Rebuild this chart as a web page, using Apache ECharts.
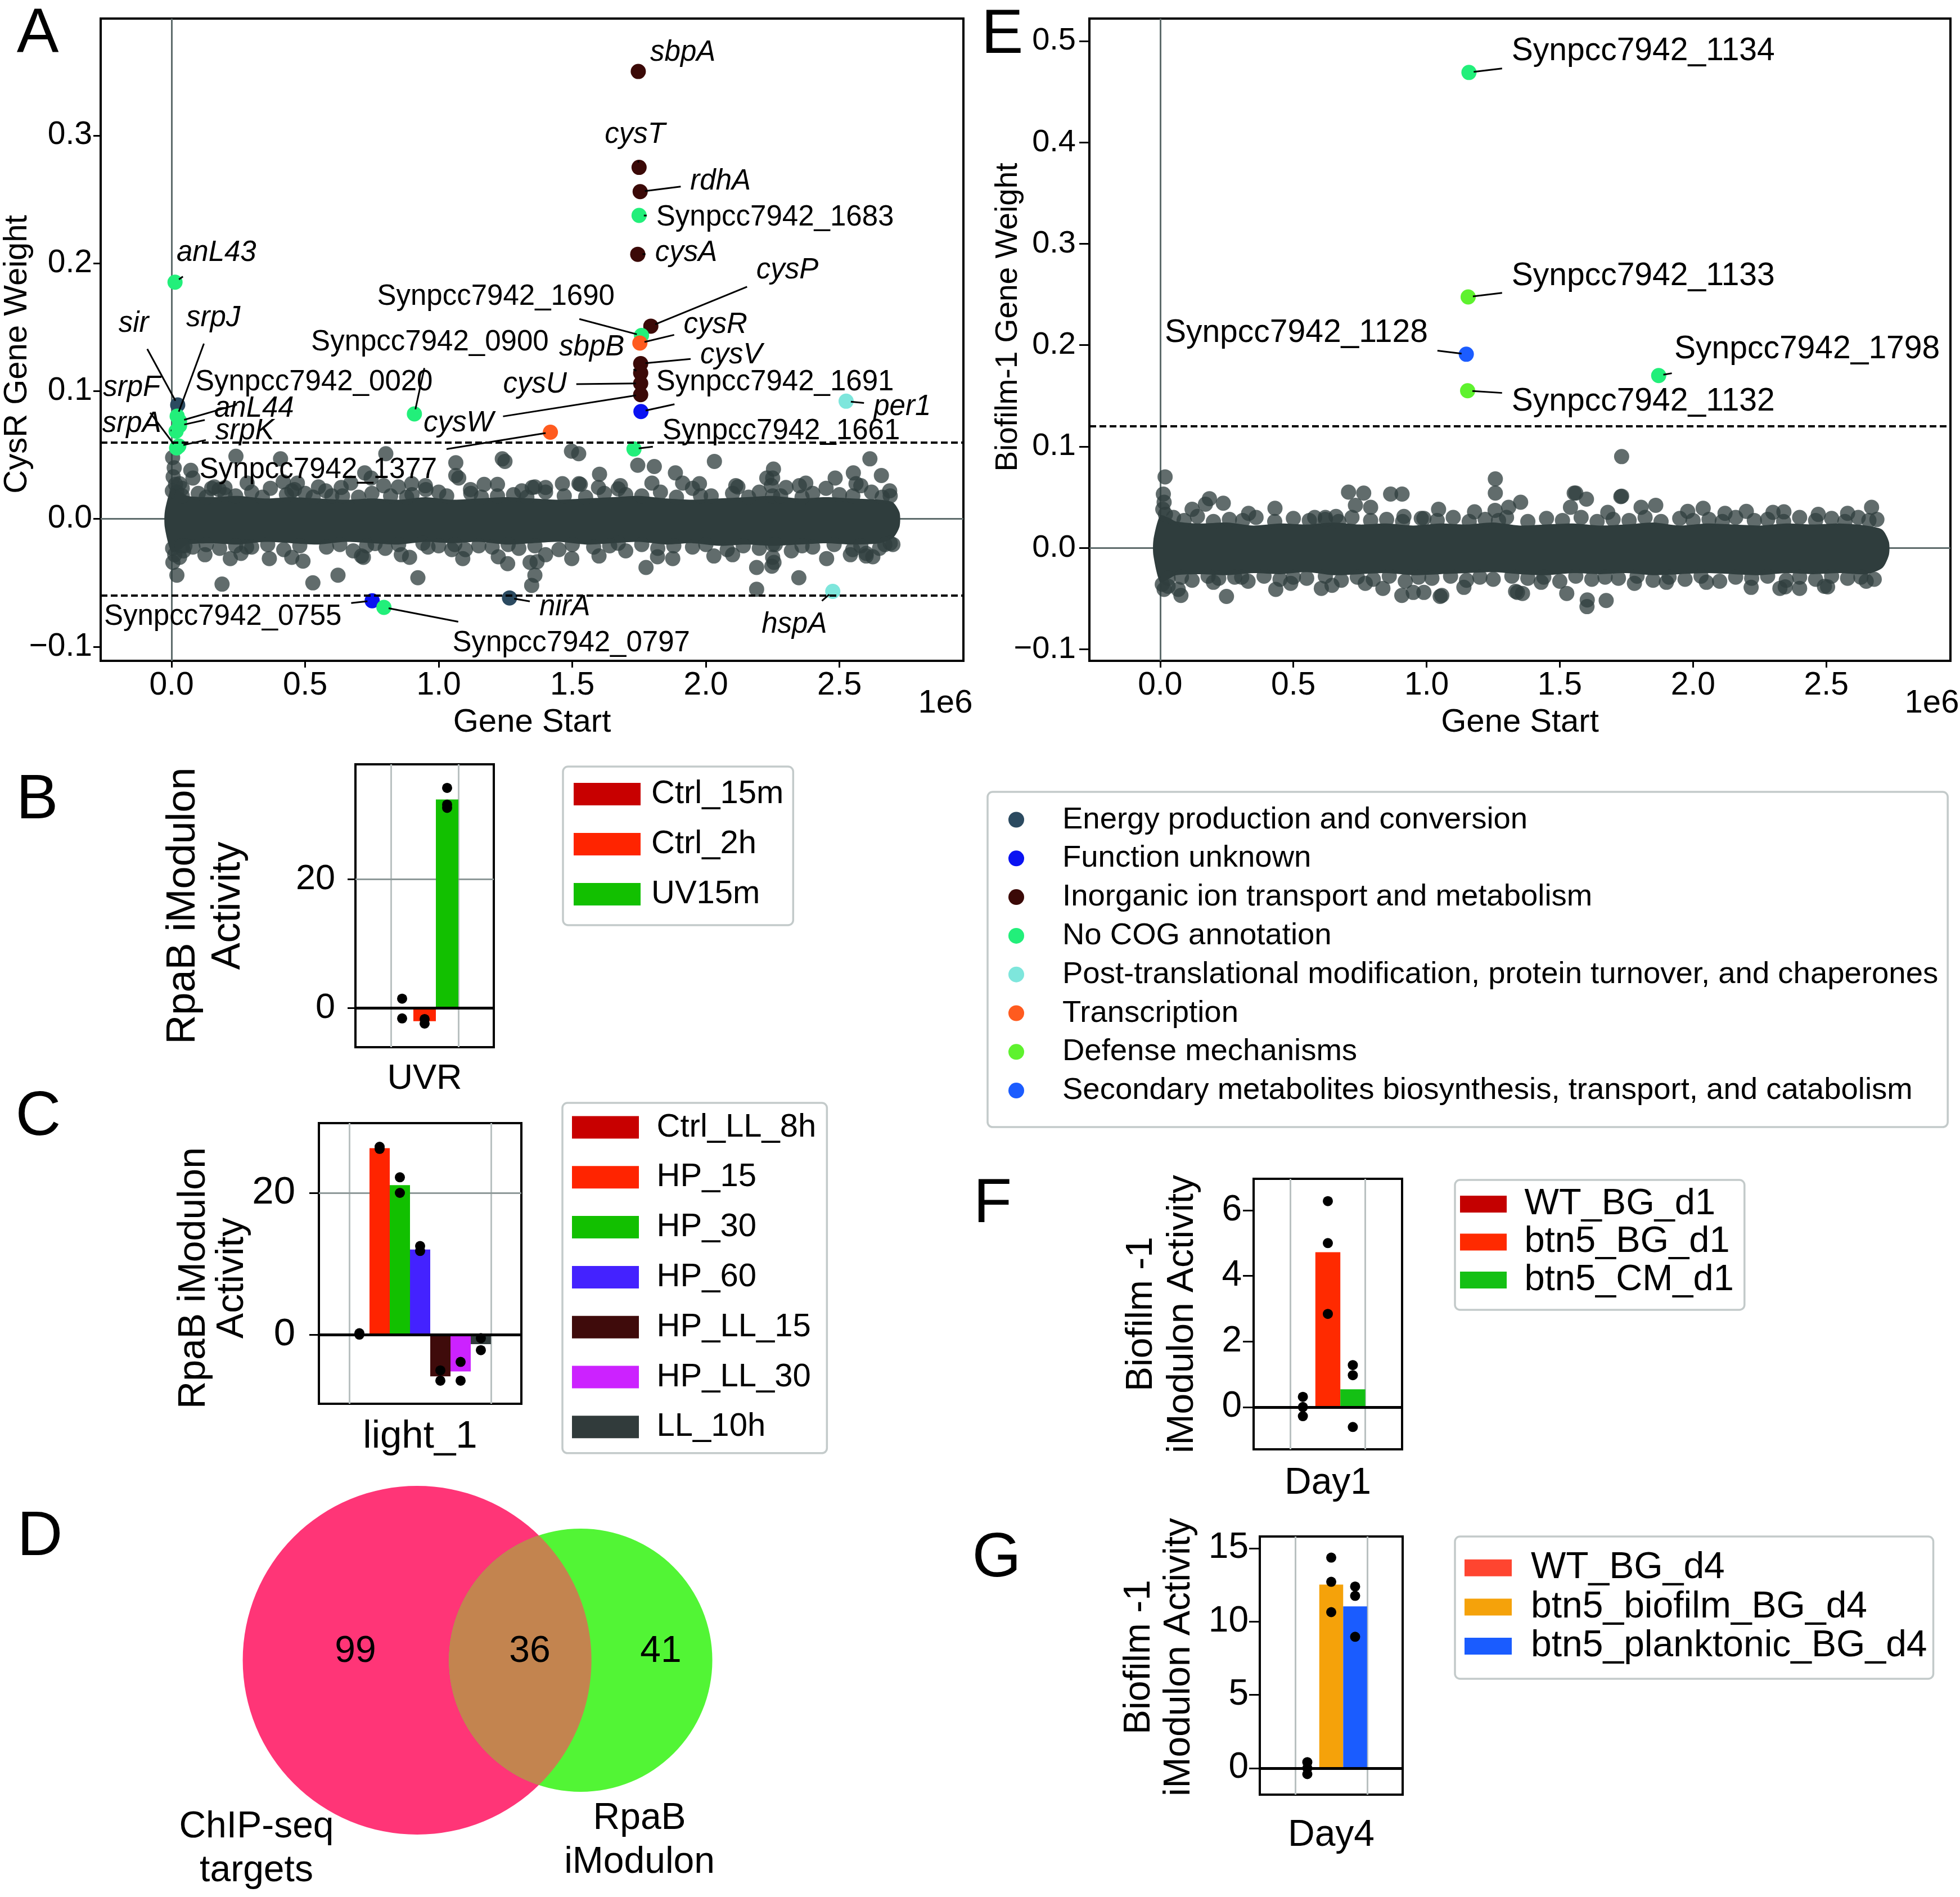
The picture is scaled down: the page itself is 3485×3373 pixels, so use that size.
<!DOCTYPE html>
<html><head><meta charset="utf-8"><title>CysR / RpaB / Biofilm-1 iModulons</title>
<script src="https://cdn.jsdelivr.net/npm/echarts@6.0.0/dist/echarts.min.js"></script>
<style>html,body{margin:0;padding:0;background:#fff;}#chart{width:3485px;height:3373px;}</style>
</head><body><div id="chart"></div>
<script>
const FONT = '"Liberation Sans", Arial, Helvetica, sans-serif';

// ---------------- COG categories ----------------
const cogNames = ['Energy production and conversion','Function unknown','Inorganic ion transport and metabolism','No COG annotation','Post-translational modification, protein turnover, and chaperones','Transcription','Defense mechanisms','Secondary metabolites biosynthesis, transport, and catabolism'];
const cogColors = ['#2b4a60','#0a12f2','#3b0907','#22ef7a','#7ee6dc','#ff5b1f','#5ef22e','#1b5cff'];

// ---------------- Panel A : CysR gene weights ----------------
const aGenes = ['sbpA','cysT','rdhA','Synpcc7942_1683','cysA','cysP','Synpcc7942_1690','cysR','cysV','sbpB','cysU','cysW','Synpcc7942_1691','Synpcc7942_1661','Synpcc7942_1377','Synpcc7942_0900','per1','hspA','nirA','Synpcc7942_0755','Synpcc7942_0797','anL43','sir','srpJ','Synpcc7942_0020','anL44','srpA','srpF','srpK'];
const aGeneStart = [1.747,1.750,1.754,1.750,1.745,1.794,1.759,1.753,1.756,1.756,1.756,1.756,1.757,1.731,1.418,0.909,2.525,2.475,1.265,0.751,0.795,0.013,0.023,0.021,0.030,0.030,0.017,0.019,0.027];
const aGeneWeight = [0.350,0.275,0.256,0.2374,0.207,0.1508,0.1435,0.1376,0.1215,0.1141,0.106,0.0972,0.084,0.0547,0.0678,0.0821,0.0921,-0.0567,-0.0618,-0.064,-0.0692,0.1852,0.0892,0.0804,0.0765,0.073,0.0686,0.0555,0.057];
const aGeneCog = [2,2,2,3,2,2,3,5,2,2,2,2,1,3,5,3,4,4,0,1,3,3,0,3,3,3,3,3,3];
const aLabelX = [1.914,1.735,2.055,2.259,1.926,2.305,1.214,2.036,2.095,1.573,1.360,1.074,2.259,2.282,0.549,0.967,2.735,2.331,1.472,0.192,1.496,0.168,-0.142,0.156,0.533,0.309,-0.149,-0.149,0.274];
const aLabelY = [0.3647,0.3002,0.2638,0.2357,0.2082,0.1945,0.1736,0.1517,0.1280,0.1342,0.1050,0.0747,0.1068,0.0685,0.0383,0.1380,0.0876,-0.0828,-0.0692,-0.0767,-0.0974,0.2080,0.1525,0.1569,0.1068,0.0861,0.0742,0.1024,0.0685];
const aThreshold = 0.0551;
// dense core of the remaining genes (outline of the overlapped region)
const aBandX   = [-0.025,0.0,0.03,0.06,0.15,0.25,0.35,0.45,0.55,0.65,0.75,0.85,0.95,1.05,1.15,1.25,1.35,1.45,1.55,1.65,1.75,1.85,1.95,2.05,2.15,2.25,2.35,2.45,2.55,2.65,2.70,2.725];
const aBandTop = [0.006,0.024,0.022,0.018,0.017,0.018,0.016,0.017,0.016,0.015,0.016,0.015,0.017,0.015,0.016,0.017,0.016,0.015,0.016,0.017,0.018,0.016,0.015,0.016,0.017,0.018,0.016,0.017,0.016,0.015,0.013,0.005];
const aBandBot = [-0.007,-0.026,-0.024,-0.020,-0.019,-0.020,-0.018,-0.019,-0.020,-0.018,-0.019,-0.020,-0.018,-0.019,-0.018,-0.020,-0.019,-0.018,-0.020,-0.019,-0.018,-0.020,-0.019,-0.021,-0.020,-0.021,-0.020,-0.019,-0.020,-0.019,-0.015,-0.006];
// other genes read individually (outside / on the edge of the core)
const aOther = [
[0.004,0.048],[0.010,0.040],[0.006,0.033],[0.015,0.027],[0.003,0.022],[0.020,0.021],[0.004,-0.023],[0.012,-0.028],[0.005,-0.034],[0.020,-0.044],[0.030,-0.030],[0.040,0.024],[0.045,-0.025],[0.072,0.038],
[0.241,0.049],[0.408,0.047],[0.802,0.051],[1.064,0.044],[1.238,0.047],[1.248,0.045],[1.064,0.034],[1.075,0.032],[0.723,0.036],[0.471,0.028],[0.283,0.028],[0.671,0.028],[1.170,0.027],[1.220,0.027],[1.311,0.022],[0.849,0.025],[0.577,0.022],[0.178,0.023],[0.370,0.024],[0.450,0.022],
[1.497,0.053],[1.524,0.051],[1.745,0.042],[1.807,0.041],[2.032,0.045],[2.614,0.047],[2.253,0.039],[2.250,0.032],[2.552,0.036],[2.657,0.034],[1.602,0.035],[1.886,0.036],[2.484,0.032],[1.530,0.027],[2.350,0.026],[1.950,0.024],[2.580,0.026],
[0.189,-0.051],[0.529,-0.050],[0.623,-0.044],[0.922,-0.046],[0.718,-0.030],[0.891,-0.030],[1.090,-0.031],[1.258,-0.035],[1.348,-0.052],[1.342,-0.034],[0.366,-0.031],[0.450,-0.030],[0.220,-0.031],[0.125,-0.028],[0.492,-0.033],[1.049,-0.024],[0.711,-0.029],
[1.776,-0.038],[2.348,-0.046],[2.190,-0.055],[2.247,-0.037],[2.250,-0.030],[2.190,-0.038],[2.452,-0.031],[1.876,-0.031],[1.498,-0.031],[1.600,-0.029],[2.030,-0.029],[2.600,-0.029],[1.360,-0.044],
[0.030,0.0276],[0.080,0.032],[0.150,0.024],[0.200,0.0245],[0.418,0.029],[0.460,0.023],[0.635,0.0246],[0.747,0.032],[0.794,0.026],[0.899,0.0276],[0.952,0.023],[1.119,0.023],[1.350,0.0246],
[0.050,-0.021],[0.281,-0.022],[0.762,-0.0193],[0.941,-0.019],[1.223,-0.0296],
[1.400,0.0246],[1.463,0.0276],[1.525,0.0276],[1.598,0.0246],[1.672,0.0235],[1.798,0.028],[1.913,0.028],[1.976,0.0276],[2.112,0.026],[2.228,0.032],[2.300,0.0246],[2.374,0.028],[2.562,0.0276],[2.688,0.022],
[1.368,-0.0335],[1.672,-0.019],[1.819,-0.0296],[2.541,-0.028],[2.625,-0.0296],[2.690,-0.019],[2.250,0.018],[2.250,-0.020],[2.245,0.026],[2.255,-0.034],
[0.10,0.020],[0.20,0.019],[0.30,0.021],[0.50,0.020],[0.60,0.018],[0.75,0.020],[0.90,0.019],[1.00,0.021],[1.12,0.020],[1.28,0.019],[1.40,0.021],[1.62,0.020],[1.70,0.019],[1.83,0.021],[1.98,0.018],[2.10,0.020],[2.20,0.021],[2.40,0.020],[2.50,0.019],[2.62,0.021],[2.69,0.018],[0.16,0.025],[0.55,0.025],[0.95,0.026],[1.36,0.025],[1.68,0.026],[2.12,0.025],[2.45,0.024],
[0.08,-0.022],[0.18,-0.023],[0.30,-0.022],[0.42,-0.024],[0.58,-0.022],[0.68,-0.025],[0.80,-0.023],[0.96,-0.022],[1.10,-0.024],[1.20,-0.022],[1.30,-0.023],[1.45,-0.024],[1.58,-0.022],[1.70,-0.025],[1.82,-0.023],[1.95,-0.022],[2.08,-0.024],[2.20,-0.023],[2.32,-0.025],[2.40,-0.022],[2.55,-0.024],[2.65,-0.023],[2.70,-0.020],[0.26,-0.027],[0.86,-0.028],[1.40,-0.028],[2.10,-0.028],[2.60,-0.027],
[0.04,0.018],[0.13,0.017],[0.24,0.018],[0.34,0.017],[0.43,0.019],[0.53,0.017],[0.64,0.018],[0.70,0.017],[0.82,0.018],[0.88,0.017],[1.03,0.018],[1.16,0.017],[1.22,0.018],[1.33,0.017],[1.47,0.018],[1.55,0.017],[1.76,0.018],[1.89,0.017],[2.02,0.018],[2.16,0.017],[2.28,0.018],[2.36,0.017],[2.55,0.018],[2.66,0.017],
[0.04,-0.021],[0.13,-0.020],[0.24,-0.021],[0.36,-0.020],[0.48,-0.021],[0.63,-0.020],[0.73,-0.021],[0.85,-0.020],[1.00,-0.021],[1.06,-0.020],[1.15,-0.021],[1.26,-0.020],[1.36,-0.021],[1.50,-0.020],[1.64,-0.021],[1.76,-0.020],[1.88,-0.021],[2.00,-0.020],[2.14,-0.021],[2.26,-0.020],[2.36,-0.021],[2.48,-0.020],[2.58,-0.021],[2.67,-0.020]
];

// ---------------- Panel E : Biofilm-1 gene weights ----------------
const eGenes = ['Synpcc7942_1134','Synpcc7942_1133','Synpcc7942_1128','Synpcc7942_1798','Synpcc7942_1132'];
const eGeneStart = [1.159,1.156,1.149,1.871,1.154];
const eGeneWeight = [0.469,0.2475,0.191,0.170,0.155];
const eGeneCog = [3,6,7,3,6];
const eLabelX = [1.813,1.813,0.511,2.428,1.813];
const eLabelY = [0.4899,0.2681,0.2116,0.1955,0.1440];
const eThreshold = 0.1228;
const eBandX   = [-0.025,0.0,0.03,0.06,0.15,0.25,0.35,0.45,0.55,0.65,0.75,0.85,0.95,1.05,1.15,1.25,1.35,1.45,1.55,1.65,1.75,1.85,1.95,2.05,2.15,2.25,2.35,2.45,2.55,2.65,2.71,2.735];
const eBandTop = [0.008,0.032,0.030,0.026,0.024,0.025,0.022,0.024,0.023,0.025,0.023,0.024,0.022,0.024,0.023,0.025,0.022,0.023,0.024,0.022,0.023,0.025,0.022,0.024,0.023,0.022,0.024,0.023,0.024,0.022,0.018,0.006];
const eBandBot = [-0.008,-0.034,-0.031,-0.027,-0.026,-0.027,-0.025,-0.026,-0.024,-0.027,-0.026,-0.025,-0.027,-0.026,-0.025,-0.024,-0.026,-0.027,-0.025,-0.026,-0.025,-0.027,-0.026,-0.025,-0.026,-0.027,-0.025,-0.026,-0.025,-0.026,-0.020,-0.007];
const eOther = [
[0.0186,0.070],[0.012,0.053],[0.015,0.045],[0.010,0.038],[0.020,0.033],[0.008,-0.036],[0.015,-0.041],[0.030,-0.038],[0.068,-0.041],[0.078,-0.047],
[0.707,0.055],[0.764,0.054],[0.865,0.053],[0.908,0.053],[1.258,0.068],[1.258,0.054],[1.257,0.037],[1.554,0.054],[1.729,0.0505],[0.237,0.044],[0.185,0.0485],[0.170,0.043],[0.120,0.038],[0.332,0.034],[0.431,0.039],[0.733,0.042],[0.790,0.040],[0.915,0.031],[0.990,0.029],[1.045,0.038],[1.180,0.0355],[1.308,0.040],[1.353,0.045],[0.580,0.030],[0.620,0.030],[0.660,0.031],
[1.732,0.090],[1.732,0.051],[1.560,0.054],[1.600,0.048],[1.540,0.040],[1.805,0.040],[1.860,0.042],[2.038,0.039],[2.120,0.034],[2.341,0.0355],[2.200,0.036],[2.300,0.035],[2.670,0.040],[1.680,0.035],[1.980,0.036],[2.470,0.033],[2.580,0.034],
[1.602,-0.058],[1.603,-0.0514],[1.674,-0.052],[1.526,-0.045],[1.341,-0.044],[1.057,-0.047],[0.907,-0.047],[0.249,-0.048],[0.434,-0.041],[0.605,-0.040],[2.493,-0.038],[2.326,-0.040],[1.140,-0.039],[0.306,-0.029],[0.490,-0.035],[0.645,-0.037],[0.770,-0.035],[0.836,-0.040],[0.950,-0.044],[0.990,-0.044],[1.051,-0.048],[1.334,-0.043],[1.360,-0.045],[2.218,-0.039],[2.346,-0.0385],[2.400,-0.040],[2.505,-0.0385],[2.050,-0.034],[1.900,-0.034],[1.780,-0.035],[1.430,-0.034],[0.200,-0.034],[2.650,-0.033],
[0.05,0.030],[0.14,0.031],[0.26,0.028],[0.36,0.030],[0.50,0.029],[0.62,0.028],[0.72,0.030],[0.85,0.028],[0.98,0.029],[1.10,0.030],[1.22,0.028],[1.30,0.030],[1.45,0.029],[1.58,0.030],[1.70,0.028],[1.82,0.030],[1.95,0.029],[2.06,0.028],[2.16,0.030],[2.28,0.028],[2.40,0.030],[2.52,0.029],[2.62,0.030],[2.69,0.028],
[0.03,-0.030],[0.12,-0.032],[0.22,-0.030],[0.33,-0.033],[0.45,-0.031],[0.55,-0.030],[0.68,-0.032],[0.80,-0.031],[0.92,-0.033],[1.02,-0.030],[1.15,-0.032],[1.25,-0.031],[1.38,-0.030],[1.50,-0.033],[1.62,-0.031],[1.72,-0.030],[1.85,-0.032],[1.97,-0.031],[2.10,-0.033],[2.22,-0.030],[2.35,-0.032],[2.46,-0.031],[2.58,-0.030],[2.68,-0.031],
[0.09,0.027],[0.20,0.026],[0.31,0.027],[0.43,0.026],[0.56,0.027],[0.67,0.026],[0.79,0.027],[0.91,0.026],[1.04,0.027],[1.16,0.026],[1.27,0.027],[1.38,0.026],[1.51,0.027],[1.64,0.026],[1.76,0.027],[1.88,0.026],[2.00,0.027],[2.11,0.026],[2.23,0.027],[2.34,0.026],[2.46,0.027],[2.57,0.026],[2.66,0.027],
[0.08,-0.029],[0.18,-0.028],[0.28,-0.029],[0.39,-0.028],[0.50,-0.029],[0.62,-0.028],[0.74,-0.029],[0.86,-0.028],[0.97,-0.029],[1.09,-0.028],[1.20,-0.029],[1.32,-0.028],[1.44,-0.029],[1.56,-0.028],[1.67,-0.029],[1.79,-0.028],[1.91,-0.029],[2.03,-0.028],[2.16,-0.029],[2.28,-0.028],[2.40,-0.029],[2.52,-0.028],[2.63,-0.029]
];
const genomeTicks = [0, 0.5, 1.0, 1.5, 2.0, 2.5];
const aWeightTicks = [-0.1, 0, 0.1, 0.2, 0.3];
const eWeightTicks = [-0.1, 0, 0.1, 0.2, 0.3, 0.4, 0.5];

// ---------------- Panel B : RpaB activity, UVR ----------------
const bGroup = 'UVR';
const bConditions = ['Ctrl_15m','Ctrl_2h','UV15m'];
const bColors = ['#c80000','#ff2400','#12c000'];
const bActivity = [-0.06,-2.04,32.4];
const bReplicates = [[1.47,-1.6],[-1.7,-2.4],[34.2,31.6,31.1]];
const bTicks = [0, 20];

// ---------------- Panel C : RpaB activity, light_1 ----------------
const cGroup = 'light_1';
const cConditions = ['Ctrl_LL_8h','HP_15','HP_30','HP_60','HP_LL_15','HP_LL_30','LL_10h'];
const cColors = ['#c80000','#ff2400','#12c000','#4422ff','#3f0b0b','#cc22ff','#313b3b'];
const cActivity = [0.1,26.3,21.1,12.0,-5.9,-5.2,-1.35];
const cReplicates = [[0.0,0.2],[26.5,26.2],[22.2,20.0],[12.5,11.8],[-5.05,-6.5],[-3.85,-6.5],[-0.5,-2.2]];
const cTicks = [0, 20];

// ---------------- Panel F : Biofilm-1 activity, Day1 ----------------
const fGroup = 'Day1';
const fConditions = ['WT_BG_d1','btn5_BG_d1','btn5_CM_d1'];
const fColors = ['#c40000','#ff2a00','#14c014'];
const fActivity = [0.01,4.72,0.54];
const fReplicates = [[0.31,0,-0.28],[6.28,5.0,2.84],[1.28,0.97,-0.61]];
const fTicks = [0, 2, 4, 6];

// ---------------- Panel G : Biofilm-1 activity, Day4 ----------------
const gGroup = 'Day4';
const gConditions = ['WT_BG_d4','btn5_biofilm_BG_d4','btn5_planktonic_BG_d4'];
const gColors = ['#ff4530','#f5a20a','#1a5cff'];
const gActivity = [0.0,12.52,11.03];
const gReplicates = [[0.41,0,-0.41],[14.36,12.71,10.64],[12.39,11.75,8.96]];
const gTicks = [0, 5, 10, 15];

// ---------------- Panel D : Venn ----------------
const vennSetLabels = ['ChIP-seq\ntargets', 'RpaB\niModulon'];
const vennOnlyA = 99, vennOnlyB = 41, vennBoth = 36;
const vennColors = ['#ff3577', '#52f535', '#c3844f'];

// ================= layout =================
const L = {
  A:{left:179, top:33, width:1534, height:1142},
  E:{left:1937, top:33, width:1531, height:1142},
  B:{left:632, top:1359, width:246, height:503},
  C:{left:567, top:1997, width:360, height:499},
  F:{left:2229, top:2096, width:264, height:481},
  G:{left:2240, top:2732, width:254, height:459},
  D:{left:380, top:2600, width:1000, height:740}
};
const VS = 47.29; // venn px per unit

const cv = document.createElement('canvas').getContext('2d');
function textW(t, font){ cv.font = font; return cv.measureText(t).width; }
const minus = v => (v < 0 ? '\u2212' : '') + Math.abs(v).toFixed(1);

function gridOf(r, show){ return Object.assign({show: show !== false, borderColor:'#000', borderWidth:4, backgroundColor:'rgba(0,0,0,0)', containLabel:false, outerBoundsMode:'none'}, r); }
const grids = [gridOf(L.A), gridOf(L.E), gridOf(L.B), gridOf(L.C), gridOf(L.F), gridOf(L.G), gridOf(L.D, false)];

const noLine = {show:false, onZero:false};
function genomeX(gi, min, max){
  return {type:'value', gridIndex:gi, min, max, axisLine:noLine, splitLine:{show:false},
    axisTick:{show:true, length:12, lineStyle:{color:'#000', width:3}, customValues:genomeTicks},
    axisLabel:{customValues:genomeTicks, formatter:v=>v.toFixed(1), fontSize:57, color:'#000', margin:16, fontFamily:FONT},
    name:'Gene Start', nameLocation:'middle', nameGap:81, nameMoveOverlap:false, nameTextStyle:{fontSize:58, color:'#000', fontFamily:FONT}};
}
function groupX(gi, half, name, gap, fs){
  return {type:'value', gridIndex:gi, min:-half, max:half, axisLine:noLine, axisTick:{show:false}, axisLabel:{show:false}, splitLine:{show:false},
    name, nameLocation:'middle', nameGap:gap, nameMoveOverlap:false, nameTextStyle:{fontSize:fs, color:'#000', fontFamily:FONT}};
}
function valueY(gi, min, max, ticks, o){
  return {type:'value', gridIndex:gi, min, max, axisLine:noLine, splitLine:{show:false},
    axisTick:{show:true, length:o.tick, lineStyle:{color:'#000', width:3}, customValues:ticks},
    axisLabel:{customValues:ticks, formatter:o.fmt || (v=>String(v)), fontSize:o.fs, color:'#000', margin:o.margin, fontFamily:FONT},
    name:o.name, nameLocation:'middle', nameRotate:90, nameGap:o.gap, nameMoveOverlap:false,
    nameTextStyle:{fontSize:o.nfs, lineHeight:o.lh || o.nfs, color:'#000', fontFamily:FONT, align:'center', padding:o.pad || 0}};
}

const xAxes = [
  genomeX(0, -0.2653, 2.964),
  genomeX(1, -0.2655, 2.966),
  groupX(2, 3.075, bGroup, 25, 63),
  groupX(3, 5.0, cGroup, 24, 69),
  groupX(4, 2.973, fGroup, 28, 66),
  groupX(5, 2.988, gGroup, 40, 66),
  {type:'value', gridIndex:6, min:0, max:L.D.width/VS, show:false, axisLine:noLine}
];
const yAxes = [
  valueY(0, -0.111, 0.3914, aWeightTicks, {tick:13, fs:57, margin:15, fmt:minus, name:'CysR Gene Weight', gap:119, nfs:58, pad:[0,52,0,0]}),
  valueY(1, -0.1115, 0.5222, eWeightTicks, {tick:18, fs:56, margin:24, fmt:minus, name:'Biofilm-1 Gene Weight', gap:117, nfs:55, pad:[0,0,0,80]}),
  valueY(2, -6.07, 37.86, bTicks, {tick:14, fs:63, margin:36, name:'RpaB iModulon\nActivity', gap:186, nfs:72, lh:80}),
  valueY(3, -9.76, 29.84, cTicks, {tick:17, fs:69, margin:42, name:'RpaB iModulon\nActivity', gap:120, nfs:68, lh:68, pad:[0,52,0,0]}),
  valueY(4, -1.29, 6.96, fTicks, {tick:19, fs:64, margin:21, name:'Biofilm -1\niModulon Activity', gap:90, nfs:66, lh:73}),
  valueY(5, -1.81, 15.80, gTicks, {tick:19, fs:64, margin:20, name:'Biofilm -1\niModulon Activity', gap:108, nfs:66, lh:71, pad:[0,0,0,30]}),
  {type:'value', gridIndex:6, min:0, max:L.D.height/VS, show:false, axisLine:noLine}
];

const series = [];
const noLabel = {show:false};
function refLines(z, color, width, type, data){
  return {silent:true, symbol:['none','none'], z, label:noLabel, animation:false, lineStyle:{color, width, type}, data};
}

// ---- gene weight panels ----
function addWeightPanel(gi, bandX, bandTop, bandBot, other, genes, xs, ys, cogs, lxs, lys, thr, labelFs){
  series.push({type:'custom', name:'_band'+gi, xAxisIndex:gi, yAxisIndex:gi, z:2, silent:true, data:[[bandX[0], 0]],
    renderItem(params, api){
      const pts = [];
      for (let i=0;i<bandX.length;i++) pts.push(api.coord([bandX[i], bandTop[i]]));
      for (let i=bandX.length-1;i>=0;i--) pts.push(api.coord([bandX[i], bandBot[i]]));
      return {type:'polygon', shape:{points:pts, smooth:0.25}, style:{fill:'#2f3d3d'}};
    }});
  series.push({type:'scatter', name:'_other'+gi, xAxisIndex:gi, yAxisIndex:gi, z:3, silent:true, data:other,
    symbolSize:27, itemStyle:{color:'#2f3e3e', opacity:0.76},
    markLine: refLines(1, '#5e6c6c', 3, 'solid', [{xAxis:0},{yAxis:0}])});
  let first = true;
  cogNames.forEach((nm, k) => {
    const d = [];
    genes.forEach((g, i) => { if (cogs[i] === k) d.push([xs[i], ys[i]]); });
    if (!d.length) return;
    const s = {type:'scatter', name:nm, xAxisIndex:gi, yAxisIndex:gi, z:4, silent:true, data:d, symbolSize:27, itemStyle:{color:cogColors[k], opacity:1}};
    if (first) {
      s.markLine = refLines(5, '#000', 4, [12,6], thr.map(v=>({yAxis:v})));
      first = false;
    }
    series.push(s);
  });
  series.push({type:'custom', name:'_annot'+gi, xAxisIndex:gi, yAxisIndex:gi, z:6, silent:true,
    data: genes.map((g,i)=>[xs[i], ys[i], lxs[i], lys[i]]),
    renderItem(params, api){
      const i = params.dataIndex, name = genes[i];
      const p = api.coord([api.value(0), api.value(1)]);
      const l = api.coord([api.value(2), api.value(3)]);
      const italic = !/^Synpcc/.test(name);
      const font = (italic ? 'italic ' : '') + labelFs + 'px ' + FONT;
      const w = textW(name, font), h = labelFs * 1.12;
      const pad = 8.5, shrink = 8.5;
      const dx = p[0]-l[0], dy = p[1]-l[1], len = Math.hypot(dx, dy);
      const ux = dx/len, uy = dy/len;
      const tx = Math.abs(ux) > 1e-9 ? (w/2+pad)/Math.abs(ux) : Infinity;
      const ty = Math.abs(uy) > 1e-9 ? (h/2+pad)/Math.abs(uy) : Infinity;
      const t = Math.min(tx, ty) + shrink;
      const children = [];
      if (t + shrink < len) {
        children.push({type:'line', shape:{x1:l[0]+ux*t, y1:l[1]+uy*t, x2:p[0]-ux*shrink, y2:p[1]-uy*shrink}, style:{stroke:'#000', lineWidth:3}});
      }
      children.push({type:'text', style:{text:name, x:l[0], y:l[1], fill:'#000', fontSize:labelFs, fontFamily:FONT, fontStyle: italic ? 'italic' : 'normal', textAlign:'center', textVerticalAlign:'middle', align:'center', verticalAlign:'middle'}});
      return {type:'group', children};
    }});
}
addWeightPanel(0, aBandX, aBandTop, aBandBot, aOther, aGenes, aGeneStart, aGeneWeight, aGeneCog, aLabelX, aLabelY, [aThreshold, -aThreshold], 51);
addWeightPanel(1, eBandX, eBandTop, eBandBot, eOther, eGenes, eGeneStart, eGeneWeight, eGeneCog, eLabelX, eLabelY, [eThreshold], 57);

// ---- activity bar panels ----
function addBarPanel(gi, rect, half, names, colors, vals, reps, hGrid){
  const n = names.length;
  const bw = rect.width / (2*half);
  names.forEach((nm, i) => {
    const x = i - (n-1)/2;
    const s = {type:'bar', name:nm, xAxisIndex:gi, yAxisIndex:gi, data:[[x, vals[i]]], barWidth:bw, barGap:'-100%', z:2, silent:true, itemStyle:{color:colors[i]}};
    if (i === 0) {
      s.markLine = refLines(1, '#b9c1c1', 3, 'solid', [{xAxis:-n/2},{xAxis:n/2}].concat(hGrid.map(v=>({yAxis:v, lineStyle:{color:'#8e9999', width:3, type:'solid'}}))));
    }
    series.push(s);
  });
  const dots = [];
  reps.forEach((arr, i) => arr.forEach(v => dots.push([i-(n-1)/2, v])));
  series.push({type:'scatter', name:'_reps'+gi, xAxisIndex:gi, yAxisIndex:gi, z:3, silent:true, data:dots, symbolSize:18, itemStyle:{color:'#000', opacity:1},
    markLine: refLines(4, '#000', 5, 'solid', [{yAxis:0}])});
}
addBarPanel(2, L.B, 3.075, bConditions, bColors, bActivity, bReplicates, [20]);
addBarPanel(3, L.C, 5.0, cConditions, cColors, cActivity, cReplicates, [20]);
addBarPanel(4, L.F, 2.973, fConditions, fColors, fActivity, fReplicates, []);
addBarPanel(5, L.G, 2.988, gConditions, gColors, gActivity, gReplicates, []);

// ---- Venn (areas proportional to set sizes) ----
(function(){
  const nA = vennOnlyA + vennBoth, nB = vennOnlyB + vennBoth;
  const r1 = Math.sqrt(nA/Math.PI), r2 = Math.sqrt(nB/Math.PI);
  function lens(d){
    const a1 = Math.acos((d*d + r1*r1 - r2*r2)/(2*d*r1));
    const a2 = Math.acos((d*d + r2*r2 - r1*r1)/(2*d*r2));
    return r1*r1*a1 + r2*r2*a2 - 0.5*Math.sqrt((-d+r1+r2)*(d+r1-r2)*(d-r1+r2)*(d+r1+r2));
  }
  let lo = Math.abs(r1-r2)+1e-9, hi = r1+r2-1e-9;
  for (let k=0;k<80;k++){ const m=(lo+hi)/2; if (lens(m) > vennBoth) lo = m; else hi = m; }
  const d = (lo+hi)/2;
  const c1 = [(741.6 - L.D.left)/VS, (L.D.top + L.D.height - 2952)/VS];
  const c2 = [c1[0] + d, c1[1]];
  const fs = 66;
  series.push({type:'custom', name:'_venn', xAxisIndex:6, yAxisIndex:6, z:2, silent:true, data:[[c1[0], c1[1]]],
    renderItem(params, api){
      const p1 = api.coord(c1), p2 = api.coord(c2);
      const R1 = api.size([r1, 0])[0], R2 = api.size([r2, 0])[0];
      const D = p2[0] - p1[0];
      const a = (D*D + R1*R1 - R2*R2)/(2*D), h = Math.sqrt(R1*R1 - a*a);
      const t1 = Math.atan2(h, a), t2 = Math.atan2(h, D - a);
      const pts = [];
      for (let k=0;k<=60;k++){ const ang = -t1 + 2*t1*k/60; pts.push([p1[0]+R1*Math.cos(ang), p1[1]+R1*Math.sin(ang)]); }
      for (let k=0;k<=60;k++){ const ang = Math.PI - t2 + 2*t2*k/60; pts.push([p2[0]+R2*Math.cos(ang), p2[1]+R2*Math.sin(ang)]); }
      const lyr = p1[1] - 15;
      const xA = ((p1[0]-R1) + (p2[0]-R2))/2 + 17;
      const xI = ((p2[0]-R2) + (p1[0]+R1))/2 + 17;
      const xB = ((p1[0]+R1) + (p2[0]+R2))/2 + 16;
      const txt = (t, x, y, size, lh) => ({type:'text', style:{text:t, x, y, fill:'#000', fontSize:size, lineHeight:lh || size, fontFamily:FONT, textAlign:'center', textVerticalAlign:'middle', align:'center', verticalAlign:'middle'}});
      return {type:'group', children:[
        {type:'circle', shape:{cx:p1[0], cy:p1[1], r:R1}, style:{fill:vennColors[0]}},
        {type:'circle', shape:{cx:p2[0], cy:p2[1], r:R2}, style:{fill:vennColors[1]}},
        {type:'polygon', shape:{points:pts}, style:{fill:vennColors[2]}},
        txt(String(vennOnlyA), xA, lyr, fs), txt(String(vennBoth), xI, lyr, fs), txt(String(vennOnlyB), xB, lyr, fs),
        txt(vennSetLabels[0], p1[0] - 0.9213*R1, p1[1] + 1.084*R1, fs, 78),
        txt(vennSetLabels[1], p2[0] + 0.447*R2, p2[1] + 1.370*R2, fs, 78)
      ]};
    }});
})();

// ---- legends ----
const legBox = {orient:'vertical', selectedMode:false, borderColor:'#c3caca', borderWidth:3.5, borderRadius:9, backgroundColor:'#fff'};
const legends = [
  Object.assign({}, legBox, {left:1001, top:1363, data:bConditions, icon:'rect', itemWidth:119, itemHeight:40, itemGap:29, padding:[19,17,25,19],
    textStyle:{fontSize:58, lineHeight:60, color:'#000', fontFamily:FONT, padding:[0,0,0,14]}}),
  Object.assign({}, legBox, {left:1000, top:1961, data:cConditions, icon:'rect', itemWidth:119, itemHeight:40, itemGap:28.8, padding:[13.5,19,16.5,17],
    textStyle:{fontSize:58, lineHeight:60, color:'#000', fontFamily:FONT, padding:[0,0,0,26.6]}}),
  Object.assign({}, legBox, {left:2587, top:2098, data:fConditions, icon:'rect', itemWidth:83, itemHeight:30, itemGap:1.5, padding:[10,19,20,9],
    textStyle:{fontSize:65, lineHeight:66, color:'#000', fontFamily:FONT, padding:[0,0,0,26.6]}}),
  Object.assign({}, legBox, {left:2587, top:2732, data:gConditions, icon:'rect', itemWidth:84, itemHeight:30, itemGap:3.6, padding:[22.8,11,25,17],
    textStyle:{fontSize:66, lineHeight:66, color:'#000', fontFamily:FONT, padding:[0,0,0,29]}}),
  Object.assign({}, legBox, {left:1756, top:1408, data:cogNames, icon:'circle', itemWidth:28, itemHeight:28, itemGap:12.8, padding:[21.5,17,37,37],
    textStyle:{fontSize:54.5, lineHeight:56, color:'#000', fontFamily:FONT, padding:[0,0,0,63]}})
];

// ---- panel letters and offset texts ----
const letter = (t, x, y) => ({type:'text', x, y, silent:true, style:{text:t, fontSize:112, fontFamily:FONT, fill:'#000', textAlign:'center', textVerticalAlign:'middle', align:'center', verticalAlign:'middle'}});
const offsetTxt = (x, y) => ({type:'text', x, y, silent:true, style:{text:'1e6', fontSize:58, fontFamily:FONT, fill:'#000', textAlign:'center', textVerticalAlign:'middle', align:'center', verticalAlign:'middle'}});
const graphic = [
  letter('A', 67, 61), letter('E', 1782, 63), letter('B', 66, 1424), letter('C', 68, 1987),
  letter('D', 71, 2734), letter('F', 1765, 2142), letter('G', 1772, 2772),
  offsetTxt(1681, 1251), offsetTxt(3435, 1251)
];

const chart = echarts.init(document.getElementById('chart'), null, {renderer:'canvas', width:3485, height:3373});
chart.setOption({
  animation:false,
  backgroundColor:'#fff',
  textStyle:{fontFamily:FONT, color:'#000'},
  tooltip:{show:false},
  grid:grids, xAxis:xAxes, yAxis:yAxes, series, legend:legends, graphic
});
</script></body></html>
